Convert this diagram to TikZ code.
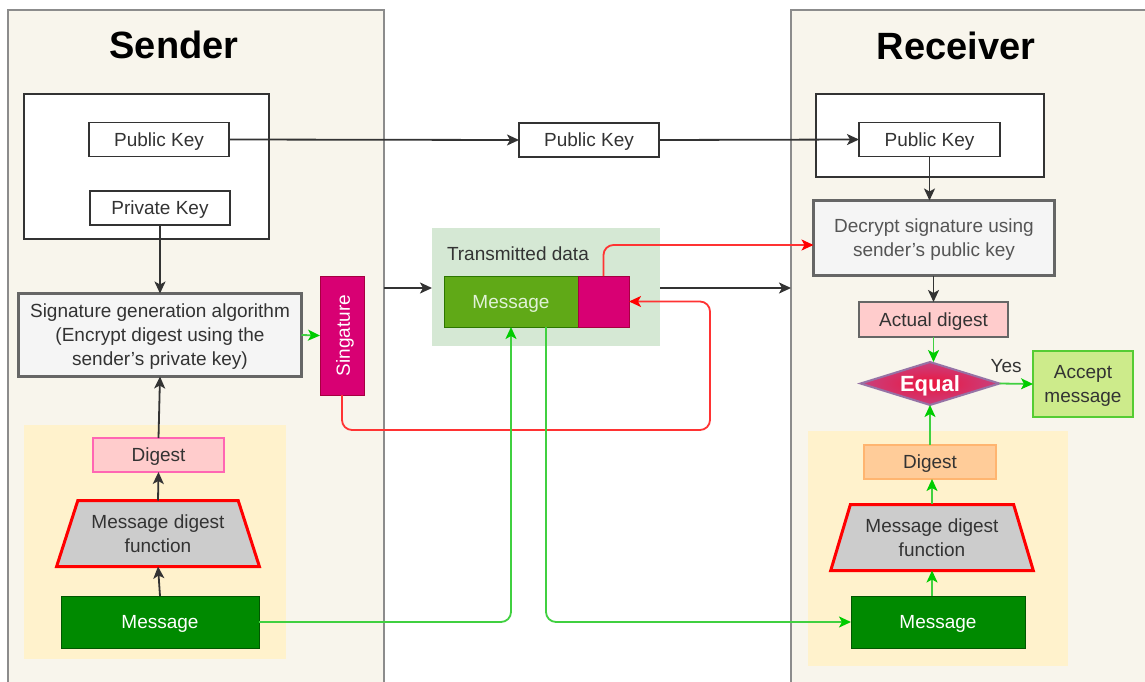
\documentclass[tikz,border=0pt]{standalone}
\usepackage{fontspec}
\setmainfont{Liberation Sans}
\usetikzlibrary{arrows.meta,shapes.geometric,calc}
\definecolor{panelbg}{HTML}{F8F5EC}
\definecolor{panelbd}{HTML}{8C8C8C}
\definecolor{dk}{HTML}{333333}
\definecolor{grybg}{HTML}{F5F5F5}
\definecolor{grybd}{HTML}{666666}
\definecolor{yelbg}{HTML}{FFF2CC}
\definecolor{pinkbg}{HTML}{FFCCCC}
\definecolor{pinkbd}{HTML}{FF66B3}
\definecolor{trapbg}{HTML}{CCCCCC}
\definecolor{msgdk}{HTML}{008A00}
\definecolor{msgdkbd}{HTML}{005700}
\definecolor{transbg}{HTML}{D5E8D4}
\definecolor{msgmid}{HTML}{60A917}
\definecolor{msgmidbd}{HTML}{2D7600}
\definecolor{mag}{HTML}{D80073}
\definecolor{magbd}{HTML}{A50040}
\definecolor{orbg}{HTML}{FFCC99}
\definecolor{orbd}{HTML}{FFB570}
\definecolor{accbg}{HTML}{CDEB8B}
\definecolor{accbd}{HTML}{55CC33}
\definecolor{gline}{HTML}{40D040}
\definecolor{ghead}{HTML}{00CC00}
\definecolor{rline}{HTML}{FF3333}
\definecolor{eqbd}{HTML}{9673A6}
\definecolor{msgtxt}{HTML}{E1F2D7}
\definecolor{dectxt}{HTML}{555555}
\definecolor{eqin}{HTML}{EC163E}
\definecolor{eqout}{HTML}{C8407F}
\begin{document}
\begin{tikzpicture}[x=1pt,y=-1pt,
  every node/.style={inner sep=0pt,outer sep=0pt,align=center,font=\fontsize{19}{24}\selectfont,text=dk,text depth=0pt},
  panel/.style={draw=panelbd,line width=2pt,fill=panelbg},
  keybox/.style={draw=dk,line width=2pt,fill=white},
  keynode/.style={draw=dk,line width=1.8pt,fill=white},
  procbox/.style={draw=grybd,line width=3pt,fill=grybg},
  trap/.style={trapezium,trapezium stretches=true,draw=red,line width=3pt,fill=trapbg},
  msgbox/.style={fill=msgdk,draw=msgdkbd,line width=1pt,text=white},
  darr/.style={draw=dk,line width=1.8pt,-{Stealth[length=12pt,width=11pt,inset=3pt]}},
  garr/.style={draw=gline,line width=1.8pt,rounded corners=10pt,-{Stealth[length=12pt,width=11pt,inset=3pt,color=ghead]}},
  rarr/.style={draw=rline,line width=1.8pt,rounded corners=10pt,-{Stealth[length=12pt,width=11pt,inset=3pt,color=red]}},
  title/.style={font=\fontsize{38}{44}\selectfont\bfseries,text=black}
]
\useasboundingbox (0,0) rectangle (1145,682);
\clip (0,0) rectangle (1145,682);
% panels
\node[panel,minimum width=376,minimum height=673] (senderP) at (196,346.5) {};
\node[panel,minimum width=359,minimum height=673] (receiverP) at (970.5,346.5) {};
\node[title] (senderT) at (174,45) {Sender};
\node[title] (receiverT) at (956,46) {Receiver};
% sender key box
\node[keybox,minimum width=245,minimum height=145] (keyS) at (146.5,166.5) {};
\node[keynode,minimum width=140,minimum height=34] (pubS) at (159,139.5) {Public Key};
\node[keynode,minimum width=140,minimum height=34] (privS) at (160,208) {Private Key};
% signature generation
\node[procbox,minimum width=283,minimum height=83] (siggen) at (160,335) {Signature generation algorithm\\(Encrypt digest using the\\sender's private key)};
\node[fill=mag,draw=magbd,line width=1pt,minimum width=44,minimum height=119] (sig) at (342,335.5) {};
\node[rotate=90,text=white] (sigT) at (343,335.5) {Singature};
% sender digest area
\node[fill=yelbg,minimum width=262,minimum height=234] (yelS) at (155,542) {};
\node[fill=pinkbg,draw=pinkbd,line width=2.5pt,minimum width=131,minimum height=34] (digS) at (158.5,455) {Digest};
\node[trap,trapezium left angle=65,trapezium right angle=65,minimum width=203,minimum height=66] (trapS) at (158,533.5) {Message digest\\function};
\node[msgbox,minimum width=198,minimum height=52] (msgS) at (160,622) {Message};
% middle
\node[keynode,minimum width=140,minimum height=34] (pubM) at (589,140) {Public Key};
\node[fill=transbg,minimum width=228,minimum height=118] (trans) at (546,287) {};
\node[anchor=west] (transL) at (447,254) {Transmitted data};
\node[fill=msgmid,draw=msgmidbd,line width=1pt,minimum width=134,minimum height=51,text=msgtxt] (msgT) at (511,301.5) {Message};
\node[fill=mag,draw=magbd,line width=1pt,minimum width=51,minimum height=51] (magT) at (603.5,301.5) {};
% receiver
\node[keybox,minimum width=228,minimum height=83] (keyR) at (930,135.5) {};
\node[keynode,minimum width=141,minimum height=34] (pubR) at (929.5,139.5) {Public Key};
\node[procbox,minimum width=241,minimum height=75,text=dectxt] (decrypt) at (934,238) {Decrypt signature using\\sender's public key};
\node[fill=pinkbg,draw=grybd,line width=2pt,minimum width=149,minimum height=35] (actual) at (933.5,319.5) {Actual digest};
\node[diamond,draw=eqbd,line width=2pt,inner color=eqin,outer color=eqout,minimum width=139,minimum height=43,aspect=3.2,text=white,font=\fontsize{22}{24}\selectfont\bfseries] (equal) at (930,383.5) {Equal};
\node[fill=accbg,draw=accbd,line width=2pt,minimum width=100,minimum height=66] (accept) at (1083,384) {Accept\\message};
\node[fill=yelbg,minimum width=260,minimum height=235] (yelR) at (938,548.5) {};
\node[fill=orbg,draw=orbd,line width=1.2pt,minimum width=132,minimum height=34] (digR) at (930,462) {Digest};
\node[trap,trapezium left angle=67,trapezium right angle=67,minimum width=203,minimum height=66] (trapR) at (932,537.5) {Message digest\\function};
\node[msgbox,minimum width=174,minimum height=52] (msgR) at (938,622) {Message};
% helper coordinates
\coordinate (yMid) at (0,288);
\coordinate (yRed) at (0,245);
\coordinate (redC) at (710,430);
\coordinate (xG) at (546,0);
% public key flow
\draw[darr] (pubS.east) -- (pubM.west);
\draw[darr] (pubM.east) -- (pubR.west);
\draw[darr] (privS.south) -- (siggen.north);
\draw[darr] (msgS.north) -- (trapS.south);
\draw[darr] (trapS.north) -- (digS.south);
\draw[darr] (digS.north) -- (siggen.south);
\draw[garr] (siggen.east) -- (sig.west);
\draw[darr] (senderP.east |- yMid) -- (trans.west |- yMid);
\draw[darr] (trans.east |- yMid) -- (receiverP.west |- yMid);
% red signature paths
\draw[rarr] (sig.south) |- (redC) |- (magT.east);
\draw[rarr] (magT.north) |- (decrypt.west |- yRed);
% green message paths
\draw[garr] (msgS.east) -| (msgT.south);
\draw[garr] (msgT.south -| xG) |- (msgR.west);
% receiver flow
\draw[darr] (pubR.south) -- (pubR.south |- decrypt.north);
\draw[darr] (decrypt.south -| actual.north) -- (actual.north);
\draw[garr] (actual.south) -- (actual.south |- equal.north);
\draw[garr] (equal.east) -- node[pos=0.2,above=11pt,text=dk] (yesL) {Yes} (accept.west);
\draw[garr] (trapR.south |- msgR.north) -- (trapR.south);
\draw[garr] (trapR.north) -- (trapR.north |- digR.south);
\draw[garr] (digR.north) -- (equal.south);
\end{tikzpicture}
\end{document}
